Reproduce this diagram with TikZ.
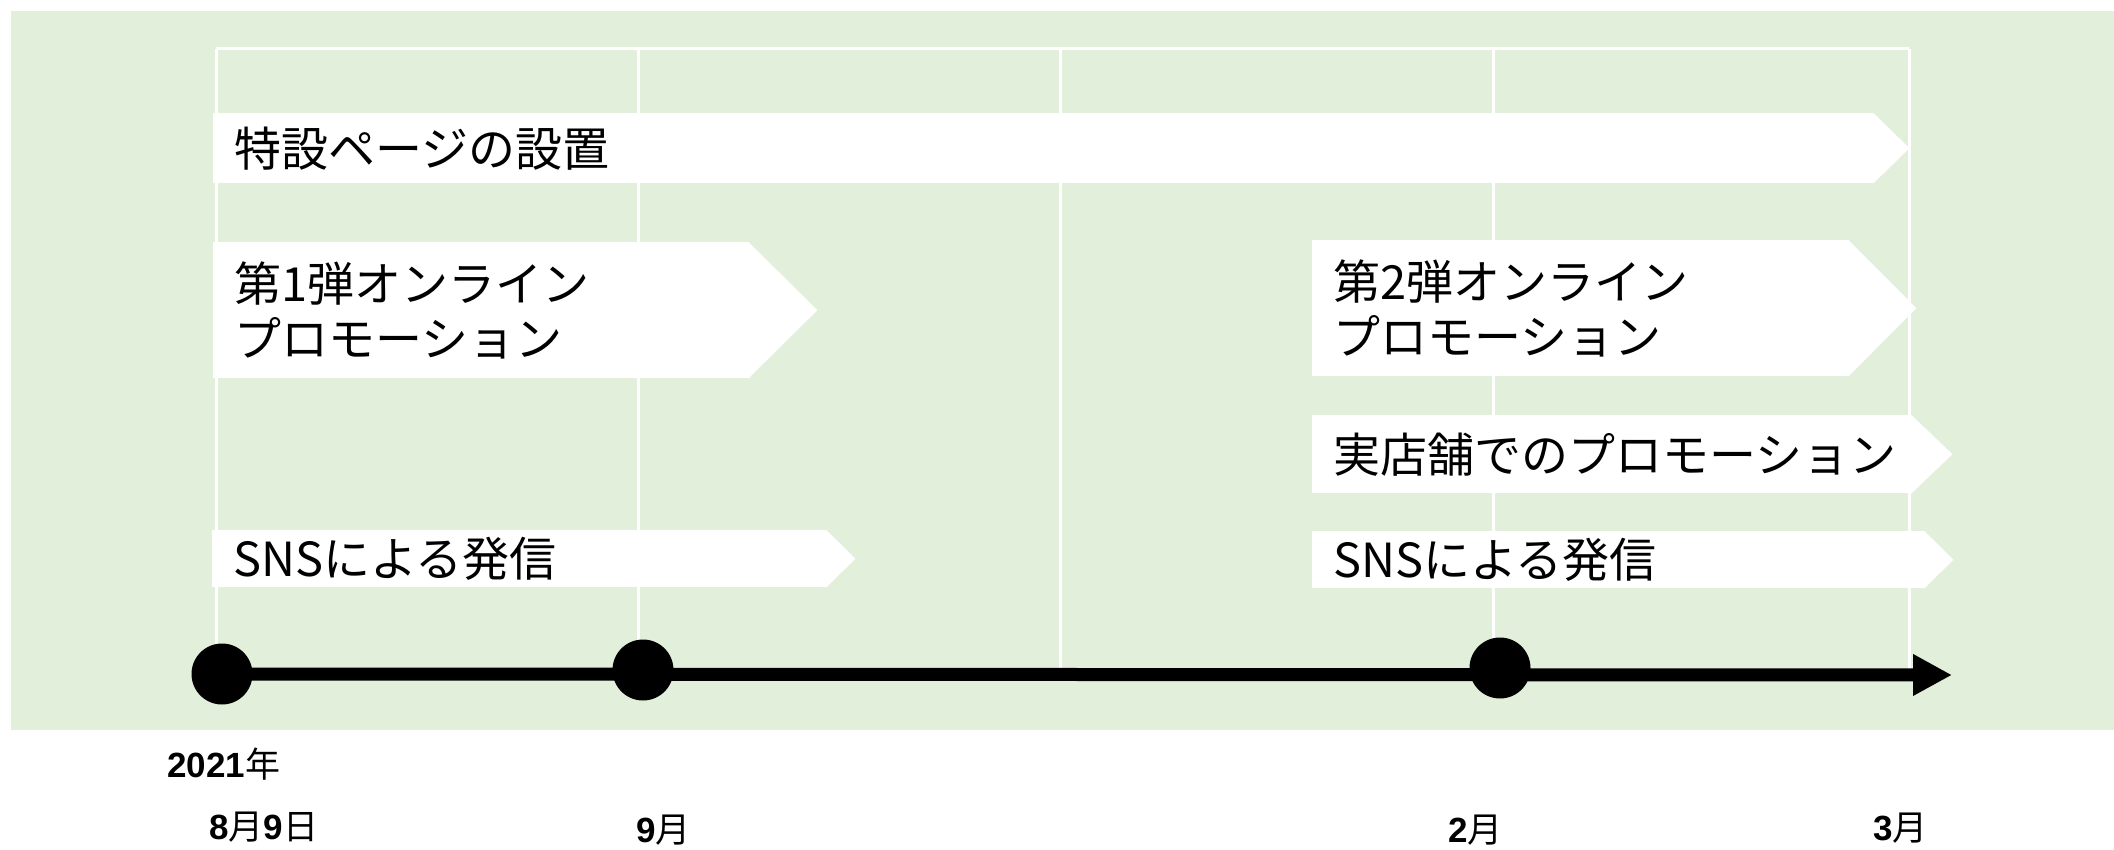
\documentclass[tikz,border=0pt]{standalone}
\usepackage{fontspec}
\setmainfont{Noto Sans CJK JP}
\newfontfamily\numfont{Liberation Sans}
\usetikzlibrary{arrows.meta, calc}

\definecolor{bggreen}{RGB}{226,239,218}
\newcommand{\dg}[1]{{\numfont\bfseries #1}}

\begin{document}
\begin{tikzpicture}[x=1pt,y=-1pt]
	\tikzstyle{bar} = [fill=white, anchor=north west, align=left, inner xsep=21pt, inner ysep=0pt,
		font=\fontsize{47}{55}\selectfont]
	\tikzstyle{dot} = [circle, fill=black, minimum size=61pt, inner sep=0pt]
	\tikzstyle{grid} = [white, line width=3pt]
	\tikzstyle{date} = [anchor=west, inner sep=0pt, font=\fontsize{35}{42}\selectfont]
	\useasboundingbox (0,0) rectangle (2114,850);
	\fill[bggreen] (11,11) rectangle (2114,730);

	% month grid
	\draw[grid] (216,49) -- (1909,49);
	\foreach \x in {216,638,1060,1493,1909}
		\draw[grid] (\x,49) -- (\x,670);

	% bars
	\node[bar, text width=1619pt, minimum height=70pt]	(setup)  at (213,113)  {特設ページの設置};
	\node[bar, text width=494pt, minimum height=136pt]	(promo1) at (213,242)  {第1弾オンライン\\プロモーション};
	\node[bar, text width=573pt, minimum height=57pt]	(sns1)   at (212,530)  {SNSによる発信};
	\node[bar, text width=495pt, minimum height=136pt]	(promo2) at (1312,240) {第2弾オンライン\\プロモーション};
	\node[bar, text width=558pt, minimum height=78pt]	(shop)   at (1312,415) {実店舗でのプロモーション};
	\node[bar, text width=571pt, minimum height=57pt]	(sns2)   at (1312,531) {SNSによる発信};
	\foreach \n/\t in {setup/35, promo1/68, sns1/28, promo2/67, shop/40, sns2/28}
		\fill[white] ($(\n.north east)+(-1,0)$) -- ($(\n.east)+(\t,0)$) -- ($(\n.south east)+(-1,0)$) -- cycle;

	% time axis
	\coordinate (end) at (1952,675);
	\node[dot] (aug) at (222,674) {};
	\draw[line width=13pt, -{Triangle[length=39pt,width=39pt]}] (aug.center) -- (end);
	\node[dot] (sep) at (643,670) {};
	\node[dot] (feb) at (1500,668) {};

	% dates
	\node[date] (year) at (167,764)  {\dg{2021}年};
	\node[date] (d1)   at (209,827)  {\dg{8}月\dg{9}日};
	\node[date] (d2)   at (636,830)  {\dg{9}月};
	\node[date] (d3)   at (1448,830) {\dg{2}月};
	\node[date] (d4)   at (1873,828) {\dg{3}月};
\end{tikzpicture}
\end{document}
